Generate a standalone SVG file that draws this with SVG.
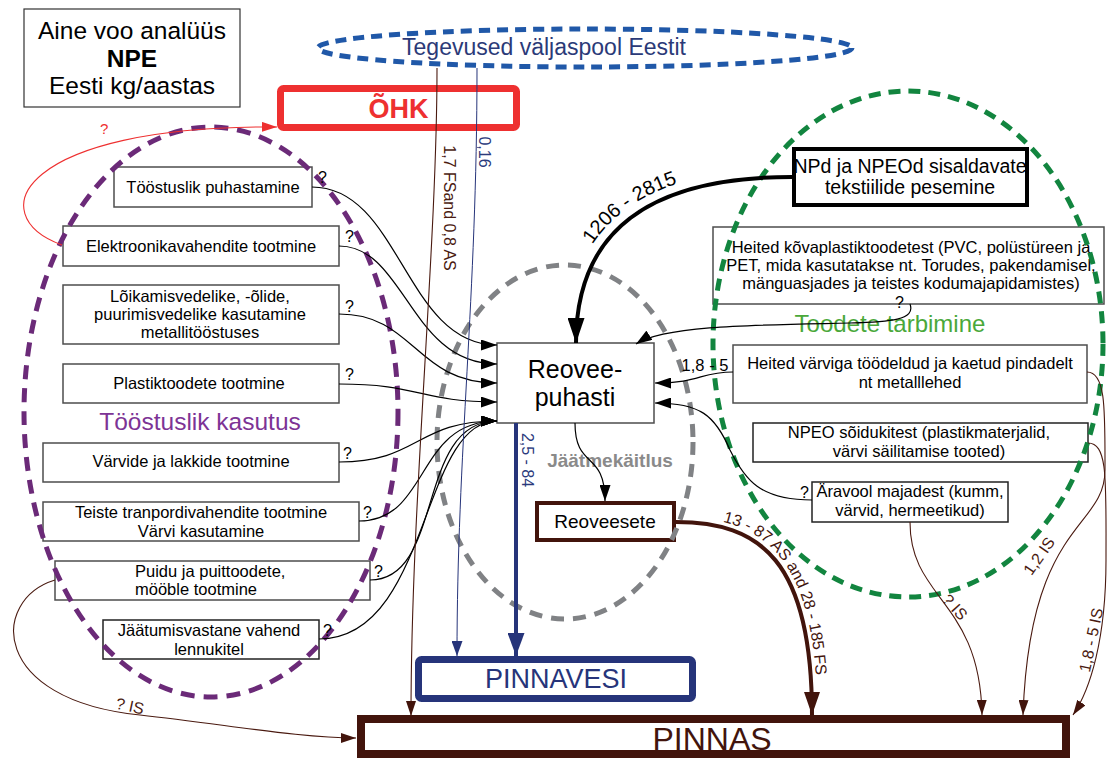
<svg xmlns="http://www.w3.org/2000/svg" width="1107" height="760" viewBox="0 0 1107 760">
<style>
  text { font-family: "Liberation Sans", Arial, sans-serif; }
  .box { fill: #fff; stroke: #4d4d4d; stroke-width: 1.5; }
  .lbl { font-size: 16.5px; fill: #000; text-anchor: middle; }
  .q { font-size: 16px; fill: #000; }
  .wire { fill: none; stroke: #000; stroke-width: 1.2; }
  .brn { fill: none; stroke: #4a1a10; stroke-width: 1.1; }
  .btxt { fill: #4a1a10; font-size: 16px; text-anchor: middle; }
  .ntxt { fill: #2b3a7c; font-size: 16px; text-anchor: middle; }
  .region { fill: none; stroke-width: 5; }
</style>
<defs>
  <marker id="ah" viewBox="0 0 16 11" refX="16" refY="5.5" markerWidth="16" markerHeight="11" markerUnits="userSpaceOnUse" orient="auto"><path d="M0,0 L16,5.5 L0,11 z" fill="#000"/></marker>
  <marker id="ahBig" viewBox="0 0 25 17" refX="25" refY="8.5" markerWidth="25" markerHeight="17" markerUnits="userSpaceOnUse" orient="auto"><path d="M0,0 L25,8.5 L0,17 z" fill="#000"/></marker>
  <marker id="ahNavyBig" viewBox="0 0 23 17" refX="23" refY="8.5" markerWidth="23" markerHeight="17" markerUnits="userSpaceOnUse" orient="auto"><path d="M0,0 L23,8.5 L0,17 z" fill="#26347a"/></marker>
  <marker id="ahNavy" viewBox="0 0 15 11" refX="15" refY="5.5" markerWidth="15" markerHeight="11" markerUnits="userSpaceOnUse" orient="auto"><path d="M0,0 L15,5.5 L0,11 z" fill="#26347a"/></marker>
  <marker id="ahBrownBig" viewBox="0 0 23 16" refX="23" refY="8" markerWidth="23" markerHeight="16" markerUnits="userSpaceOnUse" orient="auto"><path d="M0,0 L23,8 L0,16 z" fill="#42140c"/></marker>
  <marker id="ahBrown" viewBox="0 0 15 10" refX="15" refY="5" markerWidth="15" markerHeight="10" markerUnits="userSpaceOnUse" orient="auto"><path d="M0,0 L15,5 L0,10 z" fill="#42140c"/></marker>
  <marker id="ahRed" viewBox="0 0 15 10" refX="15" refY="5" markerWidth="15" markerHeight="10" markerUnits="userSpaceOnUse" orient="auto"><path d="M0,0 L15,5 L0,10 z" fill="#ee3030"/></marker>
  <path id="lblPathA" d="M568,335 C568,226 644,168 790,168"/>
  <path id="lblPathB" d="M678,517 C764,517 817,557 817,715"/>
</defs>

<rect width="1107" height="760" fill="#fff"/>

<!-- title -->
<g id="title">
  <rect x="24" y="9" width="216" height="98" fill="#fff" stroke="#333" stroke-width="1.2"/>
  <text x="132" y="39" font-size="24.5" text-anchor="middle">Aine voo analüüs</text>
  <text x="132" y="67" font-size="24.5" font-weight="bold" text-anchor="middle">NPE</text>
  <text x="132" y="94" font-size="24.5" text-anchor="middle">Eesti kg/aastas</text>
</g>

<!-- sinks -->
<g id="ohk">
  <rect x="280.5" y="88.5" width="236" height="39" rx="3" fill="#fff" stroke="#ee3030" stroke-width="7"/>
  <text x="398.5" y="118" font-size="27" font-weight="bold" fill="#ee3030" text-anchor="middle">ÕHK</text>
</g>
<g id="pinnavesi">
  <rect x="418.5" y="659.5" width="274" height="39" rx="3" fill="#fff" stroke="#26347a" stroke-width="7"/>
  <text x="556" y="688" font-size="27" fill="#26347a" text-anchor="middle">PINNAVESI</text>
</g>
<g id="pinnas">
  <rect x="361" y="719" width="705" height="35" fill="#fff" stroke="#42140c" stroke-width="8"/>
  <text x="712" y="750" font-size="32" fill="#42140c" text-anchor="middle">PINNAS</text>
</g>

<!-- treatment -->
<g id="reoveepuhasti">
  <rect class="box" x="497" y="343" width="157" height="80"/>
  <text x="575" y="378" font-size="25" text-anchor="middle">Reovee-</text>
  <text x="575" y="406" font-size="25" text-anchor="middle">puhasti</text>
</g>
<g id="reoveesete">
  <rect x="537" y="503" width="137" height="37" fill="#fff" stroke="#42140c" stroke-width="4"/>
  <text x="605" y="528" font-size="19" text-anchor="middle">Reoveesete</text>
</g>

<!-- industrial sources -->
<g id="puhastamine">
  <rect class="box" x="114" y="167" width="198" height="40"/>
  <text class="lbl" x="213" y="193">Tööstuslik puhastamine</text>
</g>
<g id="elektroonika">
  <rect class="box" x="63" y="226" width="276" height="40"/>
  <text class="lbl" x="201" y="252">Elektroonikavahendite tootmine</text>
</g>
<g id="loikamisvedelikud">
  <rect class="box" x="63" y="285" width="276" height="59"/>
  <text class="lbl" x="200" y="302">Lõikamisvedelike, -õlide,</text>
  <text class="lbl" x="200" y="320">puurimisvedelike kasutamine</text>
  <text class="lbl" x="200" y="338">metallitööstuses</text>
</g>
<g id="plastiktooted">
  <rect class="box" x="63" y="364" width="276" height="39"/>
  <text class="lbl" x="199" y="389">Plastiktoodete tootmine</text>
</g>
<g id="varvid">
  <rect class="box" x="43" y="443" width="296" height="39"/>
  <text class="lbl" x="191" y="467">Värvide ja lakkide tootmine</text>
</g>
<g id="transport">
  <rect class="box" x="43" y="502" width="316" height="39"/>
  <text class="lbl" x="201" y="518">Teiste tranpordivahendite tootmine</text>
  <text class="lbl" x="201" y="537">Värvi kasutamine</text>
</g>
<g id="puit">
  <rect class="box" x="55" y="561" width="315" height="39"/>
  <text x="135" y="577" font-size="16.5">Puidu ja puittoodete,</text>
  <text x="135" y="595" font-size="16.5">mööble tootmine</text>
</g>
<g id="jaatumisvastane">
  <rect class="box" x="103" y="620" width="216" height="39" style="stroke:#222"/>
  <text class="lbl" x="209" y="636">Jäätumisvastane vahend</text>
  <text class="lbl" x="209" y="655">lennukitel</text>
</g>

<!-- consumer sources -->
<g id="tekstiilid">
  <rect x="794" y="149" width="233" height="56" fill="#fff" stroke="#000" stroke-width="4"/>
  <text x="910" y="173" font-size="19.5" text-anchor="middle">NPd ja NPEOd sisaldavate</text>
  <text x="910" y="194" font-size="19.5" text-anchor="middle">tekstiilide pesemine</text>
</g>
<g id="kovaplastik">
  <rect class="box" x="713" y="227" width="391" height="77"/>
  <text class="lbl" x="911" y="253">Heited kõvaplastiktoodetest (PVC, polüstüreen ja</text>
  <text class="lbl" x="911" y="271">PET, mida kasutatakse nt. Torudes, pakendamisel,</text>
  <text class="lbl" x="911" y="289">mänguasjades ja teistes kodumajapidamistes)</text>
</g>
<g id="varvipinnad">
  <rect class="box" x="733" y="345" width="354" height="58"/>
  <text class="lbl" x="910" y="369">Heited värviga töödeldud ja kaetud pindadelt</text>
  <text class="lbl" x="910" y="388">nt metalllehed</text>
</g>
<g id="soidukid">
  <rect class="box" x="753" y="423" width="335" height="39" style="stroke:#222"/>
  <text class="lbl" x="919" y="438">NPEO sõidukitest (plastikmaterjalid,</text>
  <text class="lbl" x="919" y="457">värvi säilitamise tooted)</text>
</g>
<g id="aravool">
  <rect class="box" x="812" y="482" width="196" height="40" style="stroke:#222"/>
  <text class="lbl" x="910" y="497">Äravool majadest (kumm,</text>
  <text class="lbl" x="910" y="516">värvid, hermeetikud)</text>
</g>

<!-- regions -->
<g id="valismaa">
  <ellipse class="region" cx="585" cy="48" rx="267" ry="19" stroke="#2058a8" stroke-width="4" stroke-dasharray="11 7"/>
  <text x="544" y="55" font-size="23" fill="#2b3a78" text-anchor="middle">Tegevused väljaspool Eestit</text>
</g>
<g id="toostuslik-kasutus">
  <ellipse class="region" cx="211" cy="412" rx="187" ry="285" stroke="#6b2a78" stroke-dasharray="14 9"/>
  <text x="200" y="430" font-size="24.5" fill="#7d3395" text-anchor="middle">Tööstuslik kasutus</text>
</g>
<g id="jaatmekaitlus">
  <ellipse class="region" cx="565" cy="442" rx="128" ry="177" stroke="#808285" stroke-dasharray="13 9"/>
  <text x="610" y="467" font-size="19" font-weight="bold" fill="#8a8a8a" text-anchor="middle">Jäätmekäitlus</text>
</g>
<g id="toodete-tarbimine">
  <ellipse class="region" cx="908" cy="344" rx="195" ry="253" stroke="#12853f" stroke-dasharray="12 8"/>
  <text x="890" y="332" font-size="24" fill="#4aa83a" text-anchor="middle">Toodete tarbimine</text>
</g>

<!-- flows -->
<g id="connectors">
  <!-- industrial sources into the treatment plant -->
  <path class="wire" d="M312,187 C400,187 405,345 497,345" marker-end="url(#ah)"/>
  <path class="wire" d="M339,246 C405,246 410,364 497,364" marker-end="url(#ah)"/>
  <path class="wire" d="M339,314 C415,314 415,383 497,383" marker-end="url(#ah)"/>
  <path class="wire" d="M339,384 C420,384 420,402 497,402" marker-end="url(#ah)"/>
  <path class="wire" d="M339,462 C420,462 415,421 497,421" marker-end="url(#ah)"/>
  <path class="wire" d="M359,521 C430,521 415,421 497,421" marker-end="url(#ah)"/>
  <path class="wire" d="M370,580 C445,580 415,421 497,421" marker-end="url(#ah)"/>
  <path class="wire" d="M319,639 C430,639 420,421 497,421" marker-end="url(#ah)"/>

  <!-- consumer sources into the treatment plant -->
  <path d="M792,177 C650,177 576,230 576,343" fill="none" stroke="#000" stroke-width="4" marker-end="url(#ahBig)"/>
  <path class="wire" d="M910,304 C916,320 890,322 850,323 C760,325 665,325 636,344" marker-end="url(#ah)"/>
  <path class="wire" d="M733,372 C700,372 700,383 655,383" marker-end="url(#ah)"/>
  <path class="wire" d="M812,500 C760,500 745,480 730,450 C715,415 700,403 655,403" marker-end="url(#ah)"/>
  <path class="wire" d="M575,423 C575,470 605,450 605,501" marker-end="url(#ah)"/>

  <!-- air -->
  <path d="M62,245 C-20,215 20,125 277,127" fill="none" stroke="#ee3030" stroke-width="1.1" marker-end="url(#ahRed)"/>

  <!-- surface water -->
  <path d="M516,423 L516,656" fill="none" stroke="#26347a" stroke-width="4" marker-end="url(#ahNavyBig)"/>
  <path d="M477,68 C477,300 457,450 457,656" fill="none" stroke="#26347a" stroke-width="1" marker-end="url(#ahNavy)"/>

  <!-- soil -->
  <path class="brn" d="M437,68 C437,250 411,500 411,716" marker-end="url(#ahBrown)"/>
  <path d="M676,522 C760,522 812,560 812,715" fill="none" stroke="#42140c" stroke-width="4" marker-end="url(#ahBrownBig)"/>
  <path class="brn" d="M55,580 C-10,600 -10,700 140,715 C230,725 300,738 356,738" marker-end="url(#ahBrown)"/>
  <path class="brn" d="M910,522 C910,600 980,600 982,715" marker-end="url(#ahBrown)"/>
  <path class="brn" d="M1087,372 C1106,372 1105,410 1105,470 C1105,530 1030,520 1023,715" marker-end="url(#ahBrown)"/>
  <path class="brn" d="M1088,443 C1108,443 1106,480 1106,560 C1106,640 1090,690 1073,715" marker-end="url(#ahBrown)"/>
</g>

<!-- flow labels -->
<g id="flow-labels">
  <text class="q" x="318" y="183">?</text>
  <text class="q" x="345" y="242">?</text>
  <text class="q" x="345" y="312">?</text>
  <text class="q" x="345" y="380">?</text>
  <text class="q" x="343" y="459">?</text>
  <text class="q" x="363" y="518">?</text>
  <text class="q" x="374" y="577">?</text>
  <text class="q" x="323" y="636">?</text>
  <text class="q" x="800" y="498">?</text>
  <text class="q" x="895" y="308">?</text>
  <text x="100" y="134" font-size="15" fill="#ee3030">?</text>

  <text font-size="20" text-anchor="middle"><textPath href="#lblPathA" startOffset="47%">1206 - 2815</textPath></text>
  <text font-size="16" fill="#42140c"><textPath href="#lblPathB" startOffset="45">13 - 87 AS and 28 - 185 FS</textPath></text>
  <text x="705" y="371" font-size="16.5" text-anchor="middle">1,8 - 5</text>

  <text class="ntxt" transform="translate(485,152) rotate(90)" dy="0.35em">0,16</text>
  <text class="btxt" transform="translate(450,208) rotate(90)" dy="0.35em" font-size="16.5">1,7 FSand 0,8 AS</text>
  <text class="ntxt" transform="translate(528,460) rotate(90)" dy="0.35em">2,5 - 84</text>

  <text class="btxt" transform="translate(130,706) rotate(12)" dy="0.35em">? IS</text>
  <text class="btxt" transform="translate(955,607) rotate(48)" dy="0.35em">? IS</text>
  <text class="btxt" transform="translate(1039,556) rotate(-55)" dy="0.35em">1,2 IS</text>
  <text class="btxt" transform="translate(1091,640) rotate(-78)" dy="0.35em">1,8 - 5 IS</text>
</g>
</svg>
